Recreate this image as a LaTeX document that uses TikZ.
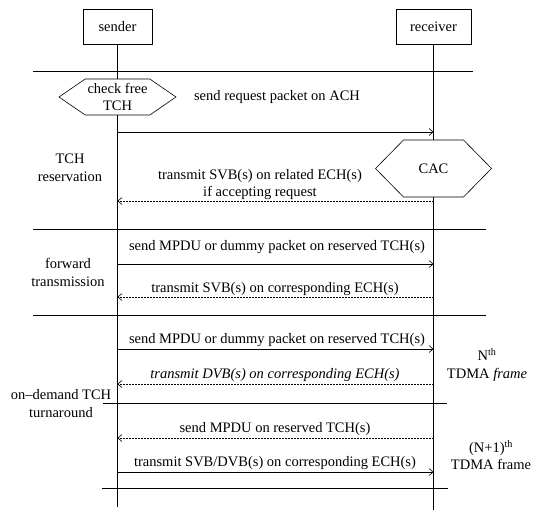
\documentclass[tikz,border=0pt]{standalone}
\usepackage{fontspec}
\setmainfont{Liberation Serif}
\usetikzlibrary{arrows.meta, shapes.symbols}

\begin{document}
\begin{tikzpicture}[
    x = 1pt, y = -1pt,
    line width = 0.6pt,
    font = \fontsize{14.5}{17.5}\selectfont,
    %
    party/.style = {draw,
      inner xsep = 14pt,
      minimum width = {69pt},
      minimum height = {35pt}},
    %
    decision/.style = {draw, fill = white,
      signal, signal to = west and east,
      align = center, inner sep = 0pt},
    %
    msg/.style = {-{Straight Barb[length = 4pt, width = 7pt]}},
    reply/.style = {msg, dash pattern = on 2pt off 1pt},
    phase/.style = {align = center},
    ]

    \useasboundingbox (0, 0) rectangle (543, 512);

    \node at (117.5, 26.5) [party, name = snd] {sender};
    \node at (433.5, 26.5) [party, name = rcv] {receiver};

    \coordinate (snd_end) at (117.5, 507);
    \coordinate (rcv_end) at (433.5, 510);

    \draw (snd) -- (snd_end);
    \draw (rcv) -- (rcv_end);

    % frame separators
    \foreach \y/\a/\b in {71/33/473, 229/33/486, 315/33/486,
                          403/103/447, 488/102/448}
      \draw (\a, \y) -- (\b, \y);

    \node at (117.5, 97)
    [decision, signal pointer angle = 69,
      minimum width = {117pt}, minimum height = {36pt}, name = chk]
    {check free\\TCH};
    \node at (433.5, 168.5)
    [decision, signal pointer angle = 91,
      minimum width = {116pt}, minimum height = {57pt}, name = cac]
    {CAC};

    % TCH reservation
    \draw [msg] (snd |- 0, 132) -- (rcv |- 0, 132);
    \node at (277, 97) [name = m1] {send request packet on ACH};

    \draw [reply] (rcv |- 0, 201) -- (snd |- 0, 201);
    \node at (260, 184.5) [phase, name = m2]
    {transmit SVB(s) on related ECH(s)\\if accepting request};

    % forward transmission
    \draw [msg] (snd |- 0, 264) -- (rcv |- 0, 264);
    \node at (277, 247) [name = m3]
    {send MPDU or dummy packet on reserved TCH(s)};

    \draw [reply] (rcv |- 0, 297) -- (snd |- 0, 297);
    \node at (275, 289) [name = m4]
    {transmit SVB(s) on corresponding ECH(s)};

    % on-demand turnaround
    \draw [msg] (snd |- 0, 349) -- (rcv |- 0, 349);
    \node at (277, 340) [name = m5]
    {send MPDU or dummy packet on reserved TCH(s)};

    \draw [reply] (rcv |- 0, 384) -- (snd |- 0, 384);
    \node at (275, 375) [name = m6]
    {\itshape transmit DVB(s) on corresponding ECH(s)};

    \draw [reply] (rcv |- 0, 438) -- (snd |- 0, 438);
    \node at (275, 429) [name = m7] {send MPDU on reserved TCH(s)};

    \draw [msg] (snd |- 0, 472) -- (rcv |- 0, 472);
    \node at (275, 463) [name = m8]
    {transmit SVB/DVB(s) on corresponding ECH(s)};

    % phase and frame labels
    \node at (70, 168) [phase, name = p1] {TCH\\reservation};
    \node at (68, 272.5) [phase, name = p2] {forward\\transmission};
    \node at (61, 403.5) [phase, name = p3] {on--demand TCH\\turnaround};

    \node at (487, 365) [phase, name = f1]
    {N\textsuperscript{th}\\TDMA \textit{frame}};
    \node at (491, 455) [phase, name = f2]
    {(N+1)\textsuperscript{th}\\TDMA frame};

  \end{tikzpicture}
\end{document}
